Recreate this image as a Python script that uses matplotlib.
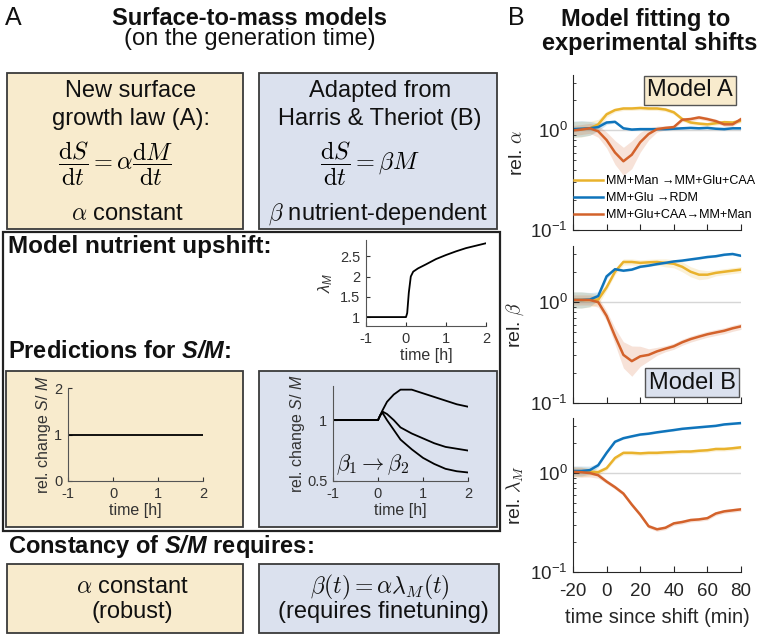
import numpy as np
import matplotlib
matplotlib.use("Agg")
import matplotlib.pyplot as plt
from matplotlib.patches import Rectangle
from matplotlib.ticker import FixedLocator, LogLocator, NullFormatter

plt.rcParams['font.family'] = ['Liberation Sans', 'DejaVu Sans']
plt.rcParams['mathtext.fontset'] = 'custom'
plt.rcParams['mathtext.rm'] = 'Liberation Sans'
plt.rcParams['mathtext.it'] = 'Liberation Sans:italic'
plt.rcParams['mathtext.bf'] = 'Liberation Sans:bold'
plt.rcParams['mathtext.bfit'] = 'Liberation Sans:italic:bold'
plt.rcParams['axes.unicode_minus'] = False

W, H = 762, 635
YELLOW = '#f8ebcd'
BLUE = '#dbe1ee'
EDGE = '#3a3a3a'
C_MAN = '#e9b22c'
C_GLU = '#0f74bb'
C_CAA = '#d3622b'
INK = '#262626'

# ---------------- data ----------------
# panel A: model nutrient upshift (time in hours)
t_lam = [-1, 0, 0.03, 0.07, 0.12, 0.18, 0.3, 0.5, 0.75, 1.0, 1.25, 1.5, 1.75, 2.0]
lam_M = [1, 1, 1.1, 1.6, 2.0, 2.12, 2.2, 2.3, 2.43, 2.53, 2.62, 2.7, 2.76, 2.82]

# predictions for S/M
t_smA = [-1, 2]
sm_A = [1, 1]
t_smB = [-1, 0, 0.05, 0.1, 0.2, 0.35, 0.5, 0.75, 1.0, 1.25, 1.5, 1.75, 2.0]
sm_B_high = [1, 1, 1.04, 1.08, 1.15, 1.21, 1.25, 1.25, 1.22, 1.19, 1.16, 1.13, 1.11]
sm_B_mid = [1, 1, 1.04, 1.07, 1.05, 1.0, 0.94, 0.89, 0.85, 0.81, 0.78, 0.765, 0.75]
sm_B_low = [1, 1, 1.04, 1.06, 1.0, 0.92, 0.84, 0.76, 0.69, 0.64, 0.6, 0.58, 0.57]

# panel B: experimental shifts (time in min)
t_min = [-20, -15, -10, -5, 0, 5, 10, 15, 20, 25, 30, 35, 40, 45, 50, 55, 60, 65, 70, 75, 80]
shift_labels = ['MM+Man →MM+Glu+CAA', 'MM+Glu →RDM', 'MM+Glu+CAA→MM+Man']

alpha_man = [1.02, 1.03, 1.05, 1.15, 1.45, 1.6, 1.66, 1.66, 1.68, 1.66, 1.66, 1.62, 1.52, 1.3, 1.2, 1.17, 1.15, 1.18, 1.21, 1.2, 1.25]
alpha_glu = [1.03, 1.04, 1.05, 1.08, 1.2, 1.22, 1.05, 1.02, 1.03, 1.03, 1.03, 1.03, 1.04, 1.05, 1.06, 1.05, 1.06, 1.04, 1.03, 1.05, 1.05]
alpha_caa = [1.0, 1.02, 1.05, 0.98, 0.8, 0.6, 0.49, 0.57, 0.76, 0.92, 1.03, 1.06, 1.08, 1.28, 1.3, 1.35, 1.3, 1.24, 1.15, 1.15, 1.3]
alpha_man_err = [0.08, 0.08, 0.07, 0.05, 0.03, 0.02, 0.02, 0.02, 0.02, 0.02, 0.02, 0.02, 0.02, 0.02, 0.02, 0.02, 0.02, 0.02, 0.02, 0.02, 0.02]
alpha_glu_err = [0.08, 0.08, 0.07, 0.04, 0.02, 0.01, 0.01, 0.01, 0.01, 0.01, 0.01, 0.01, 0.01, 0.01, 0.01, 0.01, 0.01, 0.01, 0.01, 0.01, 0.01]
alpha_caa_err = [0.05, 0.05, 0.05, 0.06, 0.08, 0.12, 0.14, 0.14, 0.1, 0.06, 0.03, 0.02, 0.02, 0.02, 0.02, 0.02, 0.02, 0.02, 0.02, 0.02, 0.02]

beta_man = [1.05, 1.05, 1.05, 1.06, 1.4, 2.0, 2.5, 2.5, 2.45, 2.48, 2.5, 2.45, 2.4, 2.24, 2.0, 1.87, 1.87, 1.95, 2.0, 2.05, 2.1]
beta_glu = [1.05, 1.05, 1.06, 1.15, 1.8, 2.12, 2.05, 2.1, 2.24, 2.3, 2.38, 2.45, 2.53, 2.58, 2.65, 2.72, 2.8, 2.85, 2.95, 3.0, 2.88]
beta_caa = [1.05, 1.05, 1.05, 1.0, 0.73, 0.46, 0.3, 0.26, 0.29, 0.3, 0.325, 0.345, 0.365, 0.4, 0.43, 0.455, 0.48, 0.5, 0.52, 0.55, 0.575]
beta_man_err = [0.08, 0.08, 0.07, 0.05, 0.03, 0.03, 0.03, 0.03, 0.03, 0.03, 0.03, 0.04, 0.04, 0.05, 0.05, 0.05, 0.04, 0.03, 0.03, 0.03, 0.03]
beta_glu_err = [0.08, 0.08, 0.07, 0.04, 0.02, 0.01, 0.01, 0.01, 0.01, 0.01, 0.01, 0.01, 0.01, 0.01, 0.01, 0.01, 0.01, 0.01, 0.01, 0.01, 0.01]
beta_caa_err = [0.05, 0.05, 0.05, 0.05, 0.05, 0.08, 0.13, 0.15, 0.1, 0.06, 0.04, 0.03, 0.03, 0.03, 0.03, 0.03, 0.03, 0.03, 0.03, 0.03, 0.03]

lam_man = [1.03, 1.03, 1.03, 1.02, 1.12, 1.42, 1.6, 1.6, 1.58, 1.6, 1.6, 1.62, 1.63, 1.65, 1.65, 1.68, 1.7, 1.75, 1.75, 1.78, 1.82]
lam_glu = [1.05, 1.05, 1.07, 1.2, 1.6, 2.07, 2.25, 2.35, 2.45, 2.5, 2.58, 2.65, 2.72, 2.8, 2.85, 2.9, 2.95, 3.0, 3.1, 3.15, 3.2]
lam_caa = [1.03, 1.02, 1.0, 0.95, 0.82, 0.72, 0.62, 0.48, 0.38, 0.29, 0.27, 0.28, 0.31, 0.32, 0.335, 0.34, 0.35, 0.39, 0.41, 0.42, 0.43]
lam_man_err = [0.05, 0.05, 0.04, 0.03, 0.02, 0.02, 0.02, 0.02, 0.02, 0.02, 0.02, 0.02, 0.02, 0.02, 0.02, 0.02, 0.02, 0.02, 0.02, 0.02, 0.02]
lam_glu_err = [0.05, 0.05, 0.04, 0.02, 0.01, 0.01, 0.01, 0.01, 0.01, 0.01, 0.01, 0.01, 0.01, 0.01, 0.01, 0.01, 0.01, 0.01, 0.01, 0.01, 0.01]
lam_caa_err = [0.05, 0.05, 0.04, 0.03, 0.02, 0.02, 0.02, 0.02, 0.02, 0.02, 0.02, 0.02, 0.02, 0.02, 0.02, 0.02, 0.02, 0.02, 0.02, 0.02, 0.02]

# ---------------- figure ----------------
fig = plt.figure(figsize=(W / 100, H / 100), dpi=100)
bg = fig.add_axes([0, 0, 1, 1])
bg.set_xlim(0, W)
bg.set_ylim(H, 0)
bg.axis('off')


def px_axes(x0, y0, x1, y1):
    ax = fig.add_axes([x0 / W, 1 - y1 / H, (x1 - x0) / W, (y1 - y0) / H])
    ax.set_facecolor('none')
    return ax


def box(x0, y0, x1, y1, fc, lw=1.3, ec=EDGE):
    bg.add_patch(Rectangle((x0, y0), x1 - x0, y1 - y0, fc=fc, ec=ec, lw=lw))


def txt(x, y, s, size=17, ha='center', **kw):
    bg.text(x, y, s, fontsize=size, ha=ha, va='baseline', color='#111111', **kw)


# boxes
box(7, 73, 243, 229, YELLOW)
box(259, 73, 497, 229, BLUE)
box(3, 232, 500, 531, 'none', lw=1.6, ec='#222222')
box(6, 371, 243, 527, YELLOW)
box(259, 371, 497, 527, BLUE)
box(7, 564, 243, 633, YELLOW)
box(259, 564, 499, 633, BLUE)

# panel A text
txt(5, 25, 'A', size=18, ha='left')
txt(250, 25, 'Surface-to-mass models', weight='bold')
txt(250, 45, '(on the generation time)')

txt(131, 97, 'New surface')
txt(131, 125, 'growth law (A):')
bg.text(116, 164, r'$\dfrac{\mathrm{d}S}{\mathrm{d}t} = \alpha\dfrac{\mathrm{d}M}{\mathrm{d}t}$',
        fontsize=17.5, ha='center', va='center', math_fontfamily='cm')
txt(127, 220, r'$\alpha$ constant', math_fontfamily='cm')

txt(380, 97, 'Adapted from')
txt(380, 125, 'Harris & Theriot (B)')
bg.text(370, 164, r'$\dfrac{\mathrm{d}S}{\mathrm{d}t} = \beta M$',
        fontsize=17.5, ha='center', va='center', math_fontfamily='cm')
txt(378, 220, r'$\beta$ nutrient-dependent', math_fontfamily='cm')

txt(8, 253, 'Model nutrient upshift:', ha='left', weight='bold', size=17.5)
txt(8, 358, r'Predictions for $\mathbfit{S/M}$:', ha='left', weight='bold')
txt(8, 553, r'Constancy of $\mathbfit{S/M}$ requires:', ha='left', weight='bold')

txt(132, 593, r'$\alpha$ constant', math_fontfamily='cm')
txt(132, 618, '(robust)')
txt(380, 593, r'$\beta(t) = \alpha\lambda_M(t)$', math_fontfamily='cm')
txt(383, 618, '(requires finetuning)')


def small_axes(ax):
    for s in ['top', 'right']:
        ax.spines[s].set_visible(False)
    for s in ['left', 'bottom']:
        ax.spines[s].set_color('#555555')
    ax.tick_params(direction='in', length=3, labelsize=10.5, colors='#333333', pad=4)
    ax.set_xlim(-1, 2)
    ax.set_xticks([-1, 0, 1, 2])
    ax.set_xlabel('time [h]', fontsize=11.5, labelpad=2, color='#333333')


# lambda_M inset
ax_lam = px_axes(366, 240, 486, 326)
ax_lam.plot(t_lam, lam_M, color='k', lw=1.3)
small_axes(ax_lam)
ax_lam.set_ylim(0.78, 2.9)
ax_lam.set_yticks([1, 1.5, 2, 2.5])
ax_lam.set_yticklabels(['1', '1.5', '2', '2.5'])
ax_lam.set_ylabel(r'$\lambda_M$', fontsize=12, labelpad=4, color='#333333')

# S/M, model A
ax_sa = px_axes(68, 388, 203, 481)
ax_sa.plot(t_smA, sm_A, color='k', lw=1.3)
small_axes(ax_sa)
ax_sa.set_ylim(0, 2)
ax_sa.set_yticks([0, 1, 2])
ax_sa.set_ylabel(r'rel. change $S$/ $M$', fontsize=11.5, labelpad=1, color='#333333')

# S/M, model B
ax_sb = px_axes(333, 386, 468, 481)
for ys in [sm_B_high, sm_B_mid, sm_B_low]:
    ax_sb.plot(t_smB, ys, color='k', lw=1.3)
small_axes(ax_sb)
ax_sb.set_ylim(0.5, 1.28)
ax_sb.set_yticks([0.5, 1])
ax_sb.set_yticklabels(['0.5', '1'])
ax_sb.set_ylabel(r'rel. change $S$/ $M$', fontsize=11.5, labelpad=0, color='#333333')
ax_sb.text(-0.93, 0.63, r'$\beta_1 \rightarrow \beta_2$', fontsize=16, ha='left', va='center',
           math_fontfamily='cm', color='#111111')

# panel B
txt(508, 25, 'B', size=18, ha='left')
txt(646, 26, 'Model fitting to', weight='bold')
txt(650, 50, 'experimental shifts', weight='bold')

panels = [
    ((573, 75, 741, 230), r'rel. $\alpha$',
     [alpha_man, alpha_glu, alpha_caa], [alpha_man_err, alpha_glu_err, alpha_caa_err]),
    ((573, 246, 741, 403), r'rel. $\beta$',
     [beta_man, beta_glu, beta_caa], [beta_man_err, beta_glu_err, beta_caa_err]),
    ((573, 418, 741, 572), r'rel. $\lambda_M$',
     [lam_man, lam_glu, lam_caa], [lam_man_err, lam_glu_err, lam_caa_err]),
]
colors = [C_MAN, C_GLU, C_CAA]
axes_b = []
for k, (rect, ylab, series, errs) in enumerate(panels):
    ax = px_axes(*rect)
    ax.set_yscale('log')
    ax.axhline(1, color='#d6d6d6', lw=1, zorder=0)
    t = np.array(t_min)
    for ys, es, c, lab in zip(series, errs, colors, shift_labels):
        ys = np.array(ys)
        es = np.array(es)
        ax.fill_between(t, ys / 10 ** es, ys * 10 ** es, color=c, alpha=0.18, lw=0)
        ax.plot(t, ys, color=c, lw=1.8, label=lab)
    ax.set_xlim(-20, 80)
    ax.set_ylim(0.1, 3.6)
    ax.set_xticks([-20, 0, 20, 40, 60, 80])
    ax.yaxis.set_major_locator(FixedLocator([0.1, 1]))
    ax.yaxis.set_minor_locator(LogLocator(base=10, subs=range(2, 10)))
    ax.yaxis.set_minor_formatter(NullFormatter())
    for s in ['top', 'right']:
        ax.spines[s].set_visible(False)
    for s in ['left', 'bottom']:
        ax.spines[s].set_color(INK)
    ax.tick_params(which='both', direction='in', colors=INK, labelsize=13.5)
    ax.tick_params(which='major', length=4)
    ax.tick_params(which='minor', length=2.5)
    ax.tick_params(axis='x', pad=8)
    ax.tick_params(axis='y', pad=4)
    ax.set_ylabel(ylab, fontsize=14, math_fontfamily='cm', labelpad=3, color=INK)
    if k < 2:
        ax.tick_params(axis='x', labelbottom=False)
    else:
        ax.set_xlabel('time since shift (min)', fontsize=14.5, color=INK, labelpad=6)
    axes_b.append(ax)

axes_b[0].legend(loc='lower left', bbox_to_anchor=(0.0, 0.05), frameon=False, fontsize=9,
                 handlelength=2.3, handletextpad=0.25, labelspacing=0.38, borderpad=0.1,
                 borderaxespad=0)
axes_b[0].text(0.696, 0.9, 'Model A', transform=axes_b[0].transAxes, fontsize=17,
               ha='center', va='center', color='#111111',
               bbox=dict(boxstyle='square,pad=0.15', fc=YELLOW, ec='#555555', lw=1))
axes_b[1].text(0.708, 0.13, 'Model B', transform=axes_b[1].transAxes, fontsize=17,
               ha='center', va='center', color='#111111',
               bbox=dict(boxstyle='square,pad=0.15', fc=BLUE, ec='#555555', lw=1))

fig.savefig('out.png', dpi=100)
